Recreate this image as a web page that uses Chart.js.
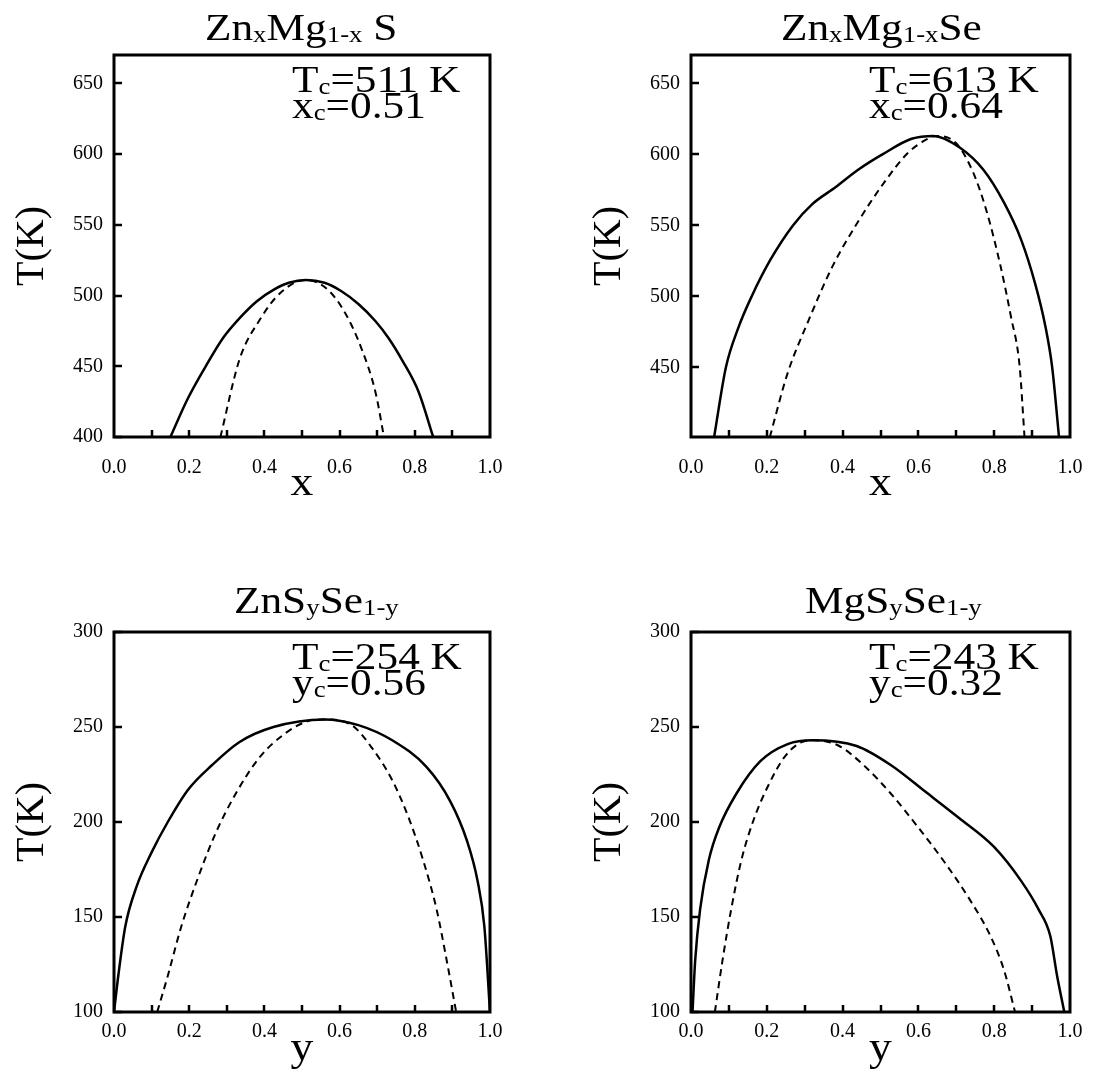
<!DOCTYPE html>
<html>
<head>
<meta charset="utf-8">
<script src="https://cdn.jsdelivr.net/npm/chart.js@4.4.0/dist/chart.umd.min.js"></script>
<style>
  html, body { margin: 0; padding: 0; background: #fff; }
  body { width: 1093px; height: 1079px; position: relative; overflow: hidden; }
  canvas { position: absolute; }
</style>
</head>
<body>
<canvas id="c1" width="546" height="530" style="left:0;top:0"></canvas>
<canvas id="c2" width="547" height="530" style="left:546px;top:0"></canvas>
<canvas id="c3" width="546" height="539" style="left:0;top:540px"></canvas>
<canvas id="c4" width="547" height="539" style="left:546px;top:540px"></canvas>
<script>
// eixos
const xTickValues = [0, 0.2, 0.4, 0.6, 0.8, 1.0];
const xMinorTicks = [0.1, 0.2, 0.3, 0.4, 0.5, 0.6, 0.7, 0.8, 0.9];
const yTicksZnMgS = [400, 450, 500, 550, 600, 650];
const yTicksZnMgSe = [450, 500, 550, 600, 650];
const yTicksSSe = [100, 150, 200, 250, 300];

// ZnxMg1-xS
const znmgsBinodalX = [0.15, 0.196, 0.244, 0.29, 0.334, 0.38, 0.424, 0.465, 0.51, 0.56, 0.605, 0.65, 0.695, 0.73, 0.767, 0.81, 0.849];
const znmgsBinodalT = [400, 427, 450, 470, 484, 496, 504, 509, 511, 509, 503, 494, 482, 470, 454, 432, 400];
const znmgsSpinodalX = [0.283, 0.334, 0.388, 0.443, 0.51, 0.569, 0.614, 0.659, 0.696, 0.718];
const znmgsSpinodalT = [400, 455, 483, 502, 511, 504, 488, 462, 431, 400];

// ZnxMg1-xSe
const znmgseBinodalX = [0.061, 0.092, 0.125, 0.16, 0.21, 0.269, 0.32, 0.382, 0.44, 0.505, 0.582, 0.64, 0.708, 0.772, 0.826, 0.871, 0.908, 0.935, 0.953, 0.971];
const znmgseBinodalT = [401, 450, 478, 500, 526, 550, 565, 577, 589, 600, 611, 613, 605, 589, 566, 540, 509, 479, 450, 401];
const znmgseSpinodalX = [0.208, 0.255, 0.310, 0.373, 0.437, 0.509, 0.572, 0.618, 0.645, 0.699, 0.745, 0.781, 0.817, 0.844, 0.867, 0.880];
const znmgseSpinodalT = [401, 446, 483, 521, 551, 580, 601, 610, 613, 608, 587, 559, 521, 486, 451, 401];

// ZnSySe1-y
const znsseBinodalY = [0.0, 0.012, 0.03, 0.06, 0.1, 0.143, 0.197, 0.261, 0.333, 0.424, 0.56, 0.65, 0.740, 0.831, 0.894, 0.939, 0.967, 0.985, 1.0];
const znsseBinodalT = [100, 120, 145, 166, 184, 200, 217, 230, 242, 250, 254, 251, 243, 229, 211, 190, 169, 145, 100];
const znsseSpinodalY = [0.115, 0.143, 0.179, 0.224, 0.270, 0.324, 0.387, 0.451, 0.514, 0.56, 0.632, 0.686, 0.740, 0.786, 0.822, 0.858, 0.885, 0.91];
const znsseSpinodalT = [100, 119, 145, 171, 194, 215, 234, 246, 253, 254, 251, 239, 222, 201, 180, 154, 127, 100];

// MgSySe1-y
const mgsseBinodalY = [0.004, 0.011, 0.024, 0.047, 0.074, 0.120, 0.183, 0.255, 0.32, 0.437, 0.527, 0.618, 0.708, 0.799, 0.871, 0.917, 0.948, 0.966, 0.985];
const mgsseBinodalT = [100, 127, 154, 180, 197, 215, 232, 241, 243, 240, 230, 216, 202, 187, 169, 154, 140, 119, 100];
const mgsseSpinodalY = [0.063, 0.083, 0.106, 0.133, 0.165, 0.201, 0.246, 0.292, 0.328, 0.391, 0.455, 0.527, 0.600, 0.672, 0.736, 0.790, 0.826, 0.855];
const mgsseSpinodalT = [100, 127, 154, 180, 201, 218, 234, 242, 243, 240, 230, 215, 197, 178, 159, 140, 122, 100];

const FONT = '"Liberation Serif", "Times New Roman", serif';
const STRETCH = 1.14;

function pontos(xs, ts) {
  return xs.map((x, i) => ({ x: x, y: ts[i] }));
}

// texto com subscritos: [[texto, sub?], ...]
function drawRich(ctx, parts, x, y, size, sx) {
  ctx.save();
  ctx.translate(x, y);
  ctx.scale(sx, 1);
  ctx.textBaseline = 'alphabetic';
  ctx.textAlign = 'left';
  ctx.fillStyle = '#000';
  let cx = 0;
  parts.forEach(([t, sub]) => {
    const fs = sub ? size * 0.62 : size;
    ctx.font = `${fs}px ${FONT}`;
    ctx.fillText(t, cx, sub ? size * 0.05 : 0);
    cx += ctx.measureText(t).width;
  });
  ctx.restore();
}

const phaseDecor = {
  id: 'phaseDecor',
  afterDatasetsDraw(chart, args, o) {
    const { ctx, chartArea: a, scales } = chart;
    const xs = scales.x, ys = scales.y;
    ctx.save();
    ctx.strokeStyle = '#000';
    ctx.lineCap = 'butt';

    // marcas para dentro
    ctx.lineWidth = 2.5;
    ctx.beginPath();
    xMinorTicks.forEach(v => {
      const px = Math.round(xs.getPixelForValue(v));
      ctx.moveTo(px, a.bottom);
      ctx.lineTo(px, a.bottom - 7);
    });
    o.yTicks.forEach(v => {
      const py = Math.round(ys.getPixelForValue(v));
      ctx.moveTo(a.left, py);
      ctx.lineTo(a.left + 8, py);
    });
    ctx.stroke();

    // moldura
    ctx.lineWidth = 3;
    ctx.strokeRect(a.left, a.top, a.right - a.left, a.bottom - a.top);

    // titulo e anotacao
    drawRich(ctx, o.title, a.left + o.titleDx, a.top - o.titleDy, 38, STRETCH);
    drawRich(ctx, o.note1, a.left + 178, a.top + 37, 38, STRETCH);
    drawRich(ctx, o.note2, a.left + 178, a.top + 63, 38, STRETCH);

    // rotulos dos eixos
    ctx.fillStyle = '#000';
    ctx.font = `40px ${FONT}`;
    ctx.textAlign = 'center';
    ctx.textBaseline = 'middle';
    ctx.save();
    ctx.translate(a.left - 82, (a.top + a.bottom) / 2);
    ctx.rotate(-Math.PI / 2);
    ctx.fillText('T(K)', 0, 0);
    ctx.restore();

    ctx.save();
    ctx.translate((a.left + a.right) / 2, a.bottom + o.axisDy);
    ctx.scale(STRETCH, 1);
    ctx.textBaseline = 'alphabetic';
    ctx.fillText(o.axisName, 0, 0);
    ctx.restore();

    ctx.restore();
  }
};

function makeChart(id, cfg) {
  const ctx = document.getElementById(id).getContext('2d');
  return new Chart(ctx, {
    type: 'scatter',
    data: {
      datasets: [
        {
          data: cfg.binodal,
          showLine: true,
          borderColor: '#000',
          borderWidth: 2.5,
          pointRadius: 0,
          cubicInterpolationMode: 'monotone',
          fill: false
        },
        {
          data: cfg.spinodal,
          showLine: true,
          borderColor: '#000',
          borderWidth: 2,
          borderDash: [7, 5],
          pointRadius: 0,
          cubicInterpolationMode: 'monotone',
          fill: false
        }
      ]
    },
    options: {
      responsive: false,
      animation: false,
      events: [],
      layout: { padding: { top: cfg.padTop, right: cfg.padRight, left: 0, bottom: 0 } },
      plugins: {
        legend: { display: false },
        tooltip: { enabled: false },
        phaseDecor: cfg.decor
      },
      scales: {
        x: {
          type: 'linear',
          min: 0,
          max: 1,
          grid: { display: false, drawTicks: false },
          border: { display: false },
          afterBuildTicks: s => { s.ticks = xTickValues.map(v => ({ value: v })); },
          afterFit: s => {
            s.height = cfg.xHeight;
            s.paddingLeft = 0;
            s.paddingRight = 0;
          },
          ticks: {
            color: '#000',
            padding: cfg.xPad,
            maxRotation: 0,
            font: { family: FONT, size: 20 },
            callback: v => Number(v).toFixed(1)
          }
        },
        y: {
          type: 'linear',
          min: cfg.yMin,
          max: cfg.yMax,
          grid: { display: false, drawTicks: false },
          border: { display: false },
          afterBuildTicks: s => { s.ticks = cfg.yTicks.map(v => ({ value: v })); },
          afterFit: s => { s.width = cfg.yWidth; },
          ticks: {
            color: '#000',
            padding: 11,
            font: { family: FONT, size: 20 },
            callback: v => v
          }
        }
      }
    },
    plugins: [phaseDecor]
  });
}

makeChart('c1', {
  binodal: pontos(znmgsBinodalX, znmgsBinodalT),
  spinodal: pontos(znmgsSpinodalX, znmgsSpinodalT),
  yMin: 400, yMax: 670, yTicks: yTicksZnMgS,
  padTop: 55, padRight: 56, yWidth: 114, xHeight: 93, xPad: 19,
  decor: {
    yTicks: yTicksZnMgS,
    title: [['Zn'], ['x', 1], ['Mg'], ['1-x', 1], [' S']],
    titleDx: 91, titleDy: 15,
    note1: [['T'], ['c', 1], ['=511 K']],
    note2: [['x'], ['c', 1], ['=0.51']],
    axisName: 'x', axisDy: 58
  }
});

makeChart('c2', {
  binodal: pontos(znmgseBinodalX, znmgseBinodalT),
  spinodal: pontos(znmgseSpinodalX, znmgseSpinodalT),
  yMin: 401, yMax: 670, yTicks: yTicksZnMgSe,
  padTop: 55, padRight: 23, yWidth: 145, xHeight: 93, xPad: 19,
  decor: {
    yTicks: yTicksZnMgSe,
    title: [['Zn'], ['x', 1], ['Mg'], ['1-x', 1], ['Se']],
    titleDx: 90, titleDy: 15,
    note1: [['T'], ['c', 1], ['=613 K']],
    note2: [['x'], ['c', 1], ['=0.64']],
    axisName: 'x', axisDy: 58
  }
});

makeChart('c3', {
  binodal: pontos(znsseBinodalY, znsseBinodalT),
  spinodal: pontos(znsseSpinodalY, znsseSpinodalT),
  yMin: 100, yMax: 300, yTicks: yTicksSSe,
  padTop: 92, padRight: 56, yWidth: 114, xHeight: 67, xPad: 8,
  decor: {
    yTicks: yTicksSSe,
    title: [['ZnS'], ['y', 1], ['Se'], ['1-y', 1]],
    titleDx: 120, titleDy: 19,
    note1: [['T'], ['c', 1], ['=254 K']],
    note2: [['y'], ['c', 1], ['=0.56']],
    axisName: 'y', axisDy: 48
  }
});

makeChart('c4', {
  binodal: pontos(mgsseBinodalY, mgsseBinodalT),
  spinodal: pontos(mgsseSpinodalY, mgsseSpinodalT),
  yMin: 100, yMax: 300, yTicks: yTicksSSe,
  padTop: 92, padRight: 23, yWidth: 145, xHeight: 67, xPad: 8,
  decor: {
    yTicks: yTicksSSe,
    title: [['MgS'], ['y', 1], ['Se'], ['1-y', 1]],
    titleDx: 114, titleDy: 19,
    note1: [['T'], ['c', 1], ['=243 K']],
    note2: [['y'], ['c', 1], ['=0.32']],
    axisName: 'y', axisDy: 48
  }
});
</script>
</body>
</html>
